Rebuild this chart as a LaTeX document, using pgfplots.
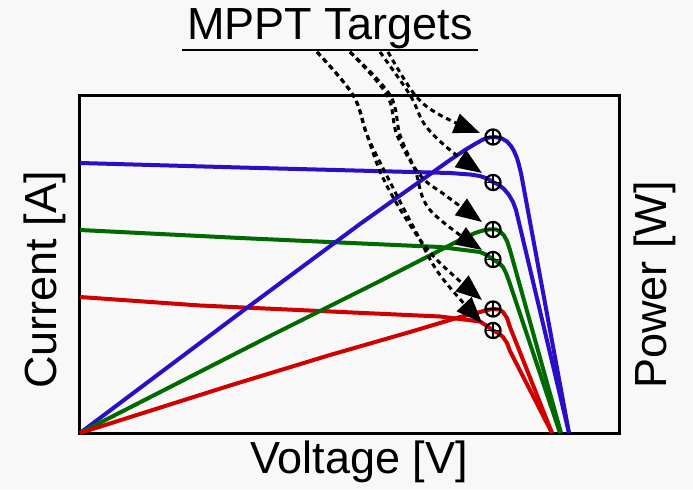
\documentclass[border=0pt]{standalone}
\usepackage{pgfplots}
\pgfplotsset{compat=1.18}
\usepackage{fontspec}
\setmainfont{Liberation Sans}
\usetikzlibrary{arrows.meta}
\definecolor{cblue}{RGB}{43,15,196}
\definecolor{cgreen}{RGB}{0,105,0}
\definecolor{cred}{RGB}{208,0,0}
\definecolor{bg}{RGB}{248,248,248}
\begin{document}
\begin{tikzpicture}
\fill[bg] (-40pt,-28pt) rectangle (306.5pt,216.5pt);
\begin{axis}[
  at={(0,0)}, anchor=south west,
  scale only axis, width=270pt, height=169pt,
  xmin=0, xmax=540, ymin=0, ymax=338,
  xtick=\empty, ytick=\empty,
  axis line style={line width=1.5pt},
  clip=false,
  font=\fontsize{22.5}{27}\selectfont,
  xlabel={Voltage [V]},
  xlabel style={at={(axis description cs:0.517,-0.086)}, anchor=center},
  ylabel={Current [A]},
  ylabel style={at={(axis description cs:-0.065,0.453)}, anchor=center, rotate=0},
]
% I-V curves
\addplot[cblue, line width=2pt, line join=round, mark=none] coordinates {(0,270)(160,265.5)(370,260)(390,258.5)(400,257)(407,254.5)(413,251)(419,248)(424,244)(429,238)(433,231)(436,223)(489,0)};
\addplot[cgreen, line width=2pt, line join=round, mark=none] coordinates {(0,203)(120,197)(160,195)(360,186)(400,181)(407,178)(413,173.5)(419,170)(423,166)(426,160)(429,152)(480,0)};
\addplot[cred, line width=2pt, line join=round, mark=none] coordinates {(0,136)(120,127.5)(360,116.5)(400,111.5)(407,107)(413,102.5)(419,99.5)(423,96)(427,90)(430,82)(472,0)};
% P-V curves
\addplot[cblue, line width=2pt, line join=round, mark=none] coordinates {(0,0)(160,120)(280,209)(370,273)(385,283)(395,289)(403,293.5)(410,295.7)(416,295.8)(422,294.5)(427,291.5)(431,287)(434,282)(437,275)(439,268)(441,260)(489,0)};
\addplot[cgreen, line width=2pt, line join=round, mark=none] coordinates {(0,0)(190,97)(300,152)(380,193)(395,200)(403,202.5)(410,203.7)(416,203.5)(420,201.5)(424,197.5)(427,192)(430,183)(481,0)};
\addplot[cred, line width=2pt, line join=round, mark=none] coordinates {(0,0)(150,47.5)(250,78)(330,101)(380,116)(400,121)(407,123)(413,124)(419,123.5)(423,121)(427,115)(430,106)(472,0)};
% MPP markers
\addplot[draw=black, line width=1.1pt, only marks, mark=o, mark size=3.8pt, mark options={draw=black, fill=none, line width=1.1pt}] coordinates {(413,296)(413,250.5)(413,203.5)(413,173.5)(413,124)(413,102.5)};
\addplot[draw=black, line width=0.7pt, only marks, mark=+, mark size=3.8pt, mark options={draw=black, line width=0.7pt}] coordinates {(413,296)(413,250.5)(413,203.5)(413,173.5)(413,124)(413,102.5)};
% arrows
\begin{scope}[line width=1.5pt, dash pattern=on 2.5pt off 2pt, -{Triangle[length=13pt,width=10pt]}]
\draw plot[smooth, tension=0.6] coordinates {(axis cs:237,381)(axis cs:273,338)(axis cs:287,298)(axis cs:303,255)(axis cs:330,208)(axis cs:357,173)(axis cs:402,133)};
\draw plot[smooth, tension=0.6] coordinates {(axis cs:237,381)(axis cs:273,338)(axis cs:287,298)(axis cs:308,255)(axis cs:335,203)(axis cs:360,158)(axis cs:402,110)};
\draw plot[smooth, tension=0.6] coordinates {(axis cs:270,381)(axis cs:307,338)(axis cs:317,298)(axis cs:340,258)(axis cs:365,238)(axis cs:402,211)};
\draw plot[smooth, tension=0.6] coordinates {(axis cs:270,381)(axis cs:310,338)(axis cs:320,298)(axis cs:335,263)(axis cs:350,223)(axis cs:402,183)};
\draw plot[smooth, tension=0.6] coordinates {(axis cs:308,381)(axis cs:335,338)(axis cs:360,318)(axis cs:400,300)};
\draw plot[smooth, tension=0.6] coordinates {(axis cs:300,381)(axis cs:330,338)(axis cs:345,308)(axis cs:370,283)(axis cs:402,260)};
\end{scope}
\node[anchor=center] at (axis description cs:0.463,1.195) {MPPT Targets};
\draw[line width=1pt] (axis cs:102,383) -- (axis cs:398,383);
\node[rotate=90, anchor=center] at (axis description cs:1.065,0.438) {Power [W]};
\end{axis}
\pgfresetboundingbox
\path (-40pt,-28pt) rectangle (306.5pt,216.5pt);
\end{tikzpicture}
\end{document}
